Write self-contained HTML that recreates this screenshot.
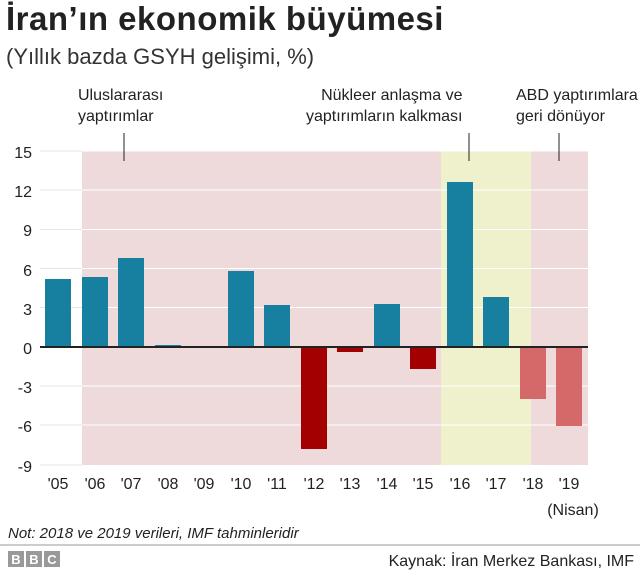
<!DOCTYPE html>
<html><head><meta charset="utf-8"><style>
body{margin:0;width:640px;height:574px;background:#fff;font-family:"Liberation Sans",sans-serif;overflow:hidden;position:relative}
.t{position:absolute;white-space:nowrap;color:#222}
</style></head><body>
<div class="t" style="left:6px;top:0px;font-size:33px;font-weight:bold;color:#222;letter-spacing:0.5px">İran’ın ekonomik büyümesi</div>
<div class="t" style="left:6px;top:44px;font-size:22px;color:#333">(Yıllık bazda GSYH gelişimi, %)</div>
<div class="t" style="left:78px;top:85px;font-size:16px;line-height:21px">Uluslararası<br>yaptırımlar</div>
<div class="t" style="left:306px;top:85px;font-size:16px;line-height:21px;text-align:right">Nükleer anlaşma ve<br>yaptırımların kalkması</div>
<div class="t" style="left:516px;top:85px;font-size:16px;line-height:21px">ABD yaptırımlara<br>geri dönüyor</div>
<svg width="640" height="574" style="position:absolute;left:0;top:0">
<rect x="82" y="151" width="359" height="314" fill="#efdadb"/>
<rect x="441" y="151" width="90" height="314" fill="#eff0cc"/>
<rect x="531" y="151" width="57" height="314" fill="#efdadb"/>
<g stroke="#fff" stroke-width="1">
<line x1="82" x2="588" y1="190" y2="190"/><line x1="82" x2="588" y1="229.5" y2="229.5"/><line x1="82" x2="588" y1="268.5" y2="268.5"/><line x1="82" x2="588" y1="307.5" y2="307.5"/><line x1="82" x2="588" y1="386" y2="386"/><line x1="82" x2="588" y1="425" y2="425"/><line x1="82" x2="588" y1="151" y2="151"/>
</g>
<g stroke="#e6e6e6"><line x1="40" x2="82" y1="151" y2="151"/><line x1="40" x2="82" y1="190" y2="190"/><line x1="40" x2="82" y1="229.5" y2="229.5"/><line x1="40" x2="82" y1="268.5" y2="268.5"/><line x1="40" x2="82" y1="307.5" y2="307.5"/><line x1="40" x2="82" y1="386" y2="386"/><line x1="40" x2="82" y1="425" y2="425"/><line x1="40" x2="82" y1="465" y2="465"/></g>
<g stroke="#222" stroke-width="1"><line x1="124" x2="124" y1="133" y2="161"/><line x1="469" x2="469" y1="133" y2="161"/><line x1="559" x2="559" y1="133" y2="161"/></g>
<g fill="#1780a1">
<rect x="45" y="279" width="26" height="68"/>
<rect x="82" y="277" width="26" height="70"/>
<rect x="118" y="258" width="26" height="89"/>
<rect x="155" y="345" width="26" height="2"/>
<rect x="228" y="271" width="26" height="76"/>
<rect x="264" y="305" width="26" height="42"/>
<rect x="374" y="304" width="26" height="43"/>
<rect x="447" y="182" width="26" height="165"/>
<rect x="483" y="297" width="26" height="50"/>
</g>
<g fill="#a30101">
<rect x="301" y="347" width="26" height="102"/>
<rect x="337" y="347" width="26" height="5"/>
<rect x="410" y="347" width="26" height="22"/>
</g>
<g fill="#d56969">
<rect x="520" y="347" width="26" height="52"/>
<rect x="556" y="347" width="26" height="79"/>
</g>
<line x1="40" x2="588" y1="347" y2="347" stroke="#222" stroke-width="2"/>
<g font-size="16" fill="#222" text-anchor="end" font-family="Liberation Sans,sans-serif">
<text x="32" y="158">15</text><text x="32" y="197">12</text><text x="32" y="236">9</text><text x="32" y="276">6</text><text x="32" y="315">3</text><text x="32" y="354">0</text><text x="32" y="393">-3</text><text x="32" y="432">-6</text><text x="32" y="472">-9</text>
</g>
<g font-size="16" fill="#222" text-anchor="middle" font-family="Liberation Sans,sans-serif">
<text x="58" y="489">'05</text><text x="95" y="489">'06</text><text x="131" y="489">'07</text><text x="168" y="489">'08</text><text x="204" y="489">'09</text><text x="241" y="489">'10</text><text x="277" y="489">'11</text><text x="314" y="489">'12</text><text x="350" y="489">'13</text><text x="387" y="489">'14</text><text x="423" y="489">'15</text><text x="460" y="489">'16</text><text x="496" y="489">'17</text><text x="533" y="489">'18</text><text x="569" y="489">'19</text>
<text x="573" y="515">(Nisan)</text>
</g>
<text x="8" y="538" font-size="15" font-style="italic" fill="#222" font-family="Liberation Sans,sans-serif">Not: 2018 ve 2019 verileri, IMF tahminleridir</text>
<line x1="0" x2="640" y1="545" y2="545" stroke="#999"/>
<g fill="#999"><rect x="8" y="551" width="16" height="16"/><rect x="26" y="551" width="16" height="16"/><rect x="44" y="551" width="16" height="16"/></g>
<g fill="#fff" font-size="13" font-weight="bold" text-anchor="middle" font-family="Liberation Sans,sans-serif"><text x="16" y="564">B</text><text x="34" y="564">B</text><text x="52" y="564">C</text></g>
<text x="634" y="566" font-size="16" fill="#222" text-anchor="end" font-family="Liberation Sans,sans-serif">Kaynak: İran Merkez Bankası, IMF</text>
</svg>
</body></html>
